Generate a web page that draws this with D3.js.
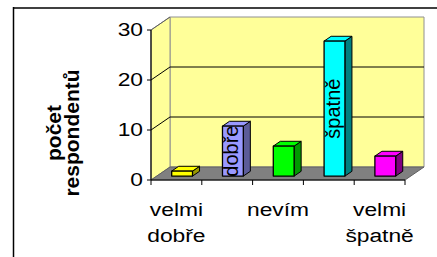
<!DOCTYPE html>
<html>
<head>
<meta charset="utf-8">
<script src="https://cdn.jsdelivr.net/npm/d3@7"></script>
<style>
  body { margin: 0; background: #fff; }
  svg { display: block; font-family: "Liberation Sans", Arial, sans-serif; }
</style>
</head>
<body>
<svg id="chart" width="437" height="257"></svg>
<script>
// data
let categories = ["velmi dobře", "dobře", "nevím", "špatně", "velmi špatně"];
let values = [1, 10, 6, 27, 4];
let bar_labels = ["", "dobře", "", "špatně", ""];
let axis_labels = [["velmi", "dobře"], [], ["nevím"], [], ["velmi", "špatně"]];
let y_ticks = [0, 10, 20, 30];
let front_colors = ["#ffff00", "#9999ff", "#00ff00", "#00ffff", "#ff00ff"];
let side_colors = ["#999900", "#5c5c99", "#009900", "#008080", "#800080"];
let y_title = ["počet", "respondentů"];

let svg = d3.select("#chart");

let x0 = 151, x1 = 405;
let depth_x = 19, depth_y = 13;
let d_front = 0.3, d_back = 0.67;
let stretch = 1.2; // text in the original is a bit wider than tall

let x = d3.scaleBand().domain(categories).range([x0, x1]).paddingInner(0.59).paddingOuter(0.295);
let x_cat = d3.scaleBand().domain(categories).range([x0, x1]);
let y = d3.scaleLinear().domain([0, 30]).range([180, 30]);

let proj = function(px, v, d){
  return [px + d * depth_x, y(v) - d * depth_y];
};
let poly = function(pts){ return "M" + pts.map(p => p.join(",")).join("L") + "Z"; };

// outer frame
svg.append("line").attr("x1", 13).attr("x2", 437).attr("y1", 8).attr("y2", 8)
  .attr("stroke", "#404040").attr("stroke-width", 2);
svg.append("line").attr("x1", 13.5).attr("x2", 13.5).attr("y1", 7).attr("y2", 257)
  .attr("stroke", "#000").attr("stroke-width", 1.5);

// walls
let walls = svg.append("g").attr("class", "walls");
walls.append("path")
  .attr("d", poly([proj(x0, 0, 1), proj(x1, 0, 1), proj(x1, 30, 1), proj(x0, 30, 1)]))
  .attr("fill", "#ffff99").attr("stroke", "#909090").attr("stroke-width", 1);
walls.append("path")
  .attr("d", poly([proj(x0, 0, 0), proj(x0, 0, 1), proj(x0, 30, 1), proj(x0, 30, 0)]))
  .attr("fill", "#ffff99").attr("stroke", "#909090").attr("stroke-width", 1);
walls.append("path")
  .attr("d", poly([proj(x0, 0, 0), proj(x1, 0, 0), proj(x1, 0, 1), proj(x0, 0, 1)]))
  .attr("fill", "#808080").attr("stroke", "#606060").attr("stroke-width", 1);

// gridlines
walls.selectAll(".grid").data(y_ticks.filter(t => t > 0 && t < 30)).enter().append("path")
  .attr("class", "grid")
  .attr("d", t => "M" + [proj(x0, t, 0), proj(x0, t, 1), proj(x1, t, 1)].map(p => p.join(",")).join("L"))
  .attr("fill", "none").attr("stroke", "#000").attr("stroke-width", 1);
walls.append("path")
  .attr("d", "M" + [proj(x0, 30, 0), proj(x0, 30, 1)].map(p => p.join(",")).join("L"))
  .attr("fill", "none").attr("stroke", "#606060").attr("stroke-width", 1);

// y axis
let y_axis = svg.append("g").attr("class", "y_axis");
y_axis.append("line").attr("x1", x0).attr("x2", x0).attr("y1", y(0)).attr("y2", y(30))
  .attr("stroke", "#000").attr("stroke-width", 1.2);
y_axis.selectAll(".tick").data(y_ticks).enter().append("line")
  .attr("x1", x0 - 4).attr("x2", x0).attr("y1", d => y(d)).attr("y2", d => y(d))
  .attr("stroke", "#000");
y_axis.selectAll(".tick_label").data(y_ticks).enter().append("text")
  .attr("transform", d => "translate(143," + (y(d) + 6) + ") scale(" + stretch + ",1)")
  .attr("text-anchor", "end").attr("font-size", 19).attr("fill", "#000")
  .text(d => d);

// x axis
let x_axis = svg.append("g").attr("class", "x_axis");
x_axis.append("line").attr("x1", x0).attr("x2", x1).attr("y1", y(0)).attr("y2", y(0))
  .attr("stroke", "#000").attr("stroke-width", 1.2);
let bounds = categories.map(c => x_cat(c)).concat([x1]);
x_axis.selectAll(".tick").data(bounds).enter().append("line")
  .attr("x1", d => d).attr("x2", d => d).attr("y1", y(0)).attr("y2", y(0) + 5)
  .attr("stroke", "#000");
let lbl = x_axis.selectAll(".x_label").data(categories).enter().append("text")
  .attr("transform", d => "translate(" + (x_cat(d) + x_cat.bandwidth() / 2) + ",216) scale(" + stretch + ",1)")
  .attr("text-anchor", "middle").attr("font-size", 19).attr("fill", "#000");
lbl.each(function(d, i){
  let t = d3.select(this);
  axis_labels[i].forEach((s, j) => {
    t.append("tspan").attr("x", 0).attr("dy", j == 0 ? 0 : 26).text(s);
  });
});

// bars
let bars = svg.append("g").attr("class", "bars");
categories.forEach((c, i) => {
  let xb = x(c), w = x.bandwidth(), v = values[i];
  let g = bars.append("g");
  g.append("path")
    .attr("d", poly([proj(xb + w, 0, d_front), proj(xb + w, 0, d_back), proj(xb + w, v, d_back), proj(xb + w, v, d_front)]))
    .attr("fill", side_colors[i]).attr("stroke", "#000").attr("stroke-width", 1).attr("stroke-linejoin", "round");
  g.append("path")
    .attr("d", poly([proj(xb, v, d_front), proj(xb + w, v, d_front), proj(xb + w, v, d_back), proj(xb, v, d_back)]))
    .attr("fill", front_colors[i]).attr("stroke", "#000").attr("stroke-width", 1).attr("stroke-linejoin", "round");
  g.append("path")
    .attr("d", poly([proj(xb, 0, d_front), proj(xb + w, 0, d_front), proj(xb + w, v, d_front), proj(xb, v, d_front)]))
    .attr("fill", front_colors[i]).attr("stroke", "#000").attr("stroke-width", 1.3).attr("stroke-linejoin", "round");
  if(bar_labels[i]){
    let cx = proj(xb + w / 2, v / 2, d_front);
    g.append("text")
      .attr("transform", "translate(" + (cx[0] + 5) + "," + cx[1] + ") rotate(-90)")
      .attr("text-anchor", "middle").attr("font-size", 20).attr("fill", "#000")
      .text(bar_labels[i]);
  }
});

// y title
let title = svg.append("text")
  .attr("transform", "translate(61,133) rotate(-90)")
  .attr("text-anchor", "middle").attr("font-size", 21).attr("font-weight", "bold").attr("fill", "#000");
y_title.forEach((s, j) => {
  title.append("tspan").attr("x", 0).attr("dy", j == 0 ? 0 : 18).text(s);
});
</script>
</body>
</html>
